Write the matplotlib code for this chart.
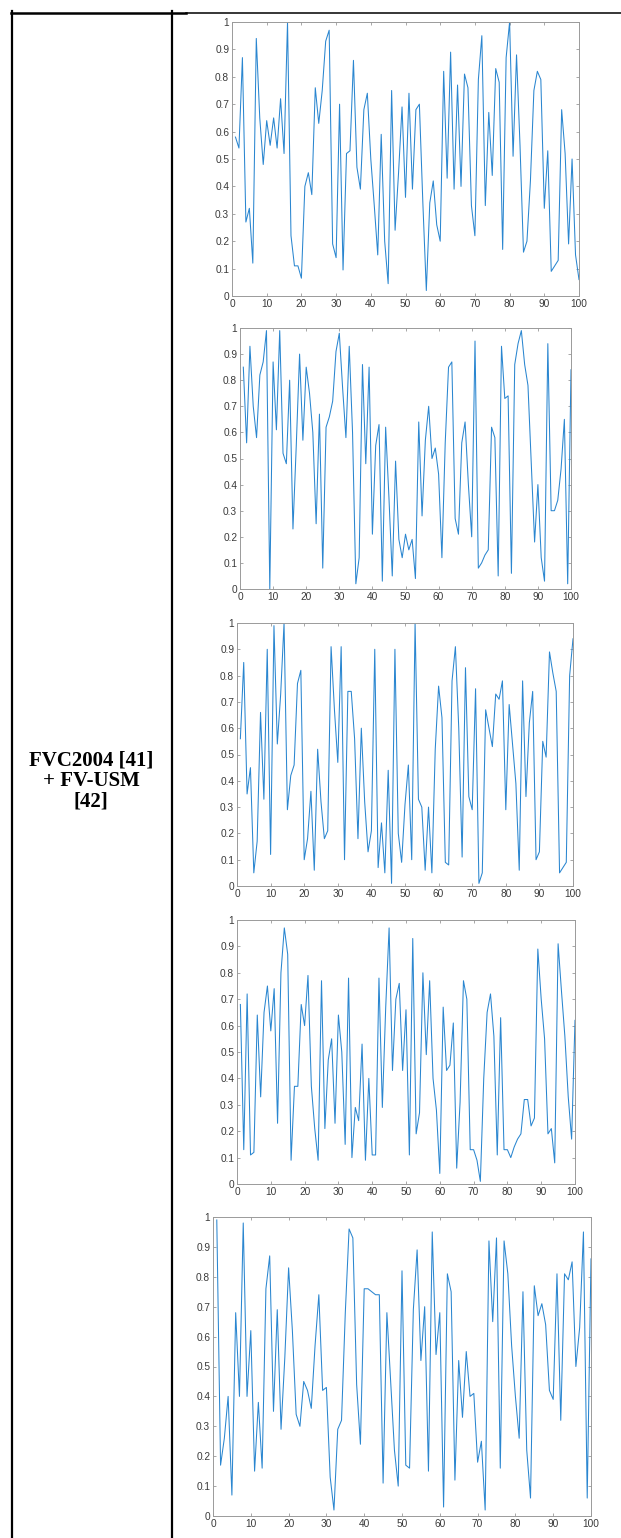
import matplotlib
matplotlib.use("Agg")
from matplotlib import pyplot as plt
from matplotlib.lines import Line2D
from matplotlib.ticker import FuncFormatter
import numpy as np

# five random-looking score curves, 100 samples each
x = np.arange(1, 101)

scores_1 = [0.58, 0.54, 0.87, 0.27, 0.32, 0.12, 0.94, 0.65, 0.48, 0.64,
            0.55, 0.65, 0.54, 0.72, 0.52, 1.00, 0.22, 0.11, 0.11, 0.065,
            0.40, 0.45, 0.37, 0.76, 0.63, 0.75, 0.93, 0.97, 0.19, 0.14,
            0.70, 0.095, 0.52, 0.53, 0.86, 0.47, 0.39, 0.68, 0.74, 0.50,
            0.33, 0.15, 0.59, 0.20, 0.045, 0.75, 0.24, 0.45, 0.69, 0.36,
            0.74, 0.39, 0.68, 0.70, 0.34, 0.02, 0.34, 0.42, 0.26, 0.20,
            0.82, 0.43, 0.89, 0.39, 0.77, 0.40, 0.81, 0.76, 0.33, 0.22,
            0.79, 0.95, 0.33, 0.67, 0.44, 0.83, 0.78, 0.17, 0.87, 1.00,
            0.51, 0.88, 0.55, 0.16, 0.20, 0.42, 0.75, 0.82, 0.79, 0.32,
            0.53, 0.09, 0.11, 0.13, 0.68, 0.52, 0.19, 0.50, 0.15, 0.06]

scores_2 = [0.85, 0.56, 0.93, 0.70, 0.58, 0.82, 0.87, 0.99, 0.00, 0.87,
            0.61, 0.99, 0.52, 0.48, 0.80, 0.23, 0.55, 0.90, 0.57, 0.85,
            0.75, 0.60, 0.25, 0.67, 0.08, 0.62, 0.66, 0.72, 0.91, 0.98,
            0.77, 0.58, 0.93, 0.60, 0.02, 0.12, 0.86, 0.48, 0.85, 0.21,
            0.55, 0.63, 0.03, 0.62, 0.35, 0.05, 0.49, 0.19, 0.12, 0.21,
            0.15, 0.19, 0.04, 0.64, 0.28, 0.57, 0.70, 0.50, 0.54, 0.44,
            0.12, 0.56, 0.85, 0.87, 0.27, 0.21, 0.56, 0.64, 0.40, 0.20,
            0.95, 0.08, 0.10, 0.13, 0.15, 0.62, 0.58, 0.05, 0.93, 0.73,
            0.74, 0.06, 0.86, 0.94, 0.99, 0.86, 0.78, 0.48, 0.18, 0.40,
            0.12, 0.03, 0.94, 0.30, 0.30, 0.34, 0.46, 0.65, 0.02, 0.84]

scores_3 = [0.56, 0.85, 0.35, 0.45, 0.05, 0.17, 0.66, 0.33, 0.90, 0.12,
            0.99, 0.54, 0.73, 1.00, 0.29, 0.42, 0.46, 0.77, 0.82, 0.10,
            0.18, 0.36, 0.06, 0.52, 0.32, 0.18, 0.21, 0.91, 0.67, 0.47,
            0.91, 0.10, 0.74, 0.74, 0.56, 0.18, 0.60, 0.32, 0.13, 0.21,
            0.90, 0.07, 0.24, 0.05, 0.44, 0.01, 0.90, 0.20, 0.09, 0.31,
            0.46, 0.10, 1.00, 0.33, 0.30, 0.06, 0.30, 0.05, 0.52, 0.76,
            0.64, 0.09, 0.08, 0.78, 0.91, 0.60, 0.11, 0.83, 0.34, 0.29,
            0.75, 0.01, 0.05, 0.67, 0.60, 0.53, 0.73, 0.71, 0.78, 0.29,
            0.69, 0.54, 0.39, 0.06, 0.78, 0.34, 0.62, 0.74, 0.10, 0.13,
            0.55, 0.49, 0.89, 0.81, 0.74, 0.05, 0.07, 0.09, 0.80, 0.94]

scores_4 = [0.68, 0.13, 0.72, 0.11, 0.12, 0.64, 0.33, 0.65, 0.75, 0.58,
            0.74, 0.23, 0.80, 0.97, 0.87, 0.09, 0.37, 0.37, 0.68, 0.60,
            0.79, 0.37, 0.21, 0.09, 0.77, 0.21, 0.47, 0.55, 0.23, 0.64,
            0.50, 0.15, 0.78, 0.10, 0.29, 0.24, 0.53, 0.09, 0.40, 0.11,
            0.11, 0.78, 0.29, 0.67, 0.97, 0.43, 0.70, 0.76, 0.43, 0.66,
            0.11, 0.93, 0.19, 0.27, 0.80, 0.49, 0.77, 0.40, 0.28, 0.04,
            0.67, 0.43, 0.45, 0.61, 0.06, 0.31, 0.77, 0.70, 0.13, 0.13,
            0.09, 0.01, 0.40, 0.65, 0.72, 0.56, 0.11, 0.63, 0.13, 0.13,
            0.10, 0.14, 0.17, 0.19, 0.32, 0.32, 0.22, 0.25, 0.89, 0.70,
            0.55, 0.19, 0.21, 0.08, 0.91, 0.73, 0.56, 0.33, 0.17, 0.62]

scores_5 = [0.99, 0.17, 0.26, 0.40, 0.07, 0.68, 0.40, 0.98, 0.40, 0.62,
            0.15, 0.38, 0.16, 0.76, 0.87, 0.35, 0.69, 0.29, 0.53, 0.83,
            0.62, 0.34, 0.30, 0.45, 0.42, 0.36, 0.57, 0.74, 0.42, 0.43,
            0.13, 0.02, 0.29, 0.32, 0.68, 0.96, 0.93, 0.44, 0.24, 0.76,
            0.76, 0.75, 0.74, 0.74, 0.11, 0.68, 0.45, 0.22, 0.10, 0.82,
            0.17, 0.16, 0.69, 0.89, 0.52, 0.70, 0.15, 0.95, 0.54, 0.68,
            0.03, 0.81, 0.75, 0.12, 0.52, 0.33, 0.55, 0.40, 0.41, 0.18,
            0.25, 0.02, 0.92, 0.65, 0.93, 0.16, 0.92, 0.81, 0.57, 0.40,
            0.26, 0.75, 0.22, 0.06, 0.77, 0.67, 0.71, 0.64, 0.42, 0.39,
            0.81, 0.32, 0.81, 0.79, 0.85, 0.50, 0.63, 0.95, 0.06, 0.86]

all_scores = [scores_1, scores_2, scores_3, scores_4, scores_5]
x_ticks = list(range(0, 101, 10))
y_ticks = [i / 10 for i in range(11)]
label = "FVC2004 [41]\n+ FV-USM\n[42]"

W, H = 621, 1538
fig = plt.figure(figsize=(W / 100, H / 100), dpi=100)

# axes boxes in pixels: left, right, top, bottom
boxes = [(232, 579, 22, 296),
         (240, 571, 328, 589),
         (237, 573, 623, 886),
         (237, 575, 920, 1184),
         (213, 591, 1217, 1516)]

for (l, r, t, b), ys in zip(boxes, all_scores):
    ax = fig.add_axes([l / W, 1 - b / H, (r - l) / W, (b - t) / H])
    ax.plot(x, ys, color='#2a86d0', lw=0.75)
    ax.set_xlim(0, 100)
    ax.set_ylim(0, 1)
    ax.set_xticks(x_ticks)
    ax.set_yticks(y_ticks)
    ax.yaxis.set_major_formatter(FuncFormatter(lambda v, p: '%g' % v))
    ax.tick_params(direction='in', length=2.5, width=0.6, color='#999999',
                   top=True, right=True, labelsize=7.3, labelcolor='#3a3a3a', pad=2)
    for lab in ax.get_xticklabels() + ax.get_yticklabels():
        lab.set_family('Liberation Sans')
    for s in ax.spines.values():
        s.set_color('#9a9a9a')
        s.set_linewidth(0.7)

# table borders
fig.add_artist(Line2D([12 / W, 12 / W], [0, 1 - 11 / H], color='black', lw=1.6))
fig.add_artist(Line2D([172 / W, 172 / W], [0, 1 - 11 / H], color='black', lw=1.6))
fig.add_artist(Line2D([11 / W, 186 / W], [1 - 12.5 / H, 1 - 12.5 / H], color='black', lw=1.8))
fig.add_artist(Line2D([186 / W, 1], [1 - 12.5 / H, 1 - 12.5 / H], color='black', lw=1.1))

fig.text(91 / W, 1 - 781 / H, label, ha='center', va='center', fontsize=15,
         fontweight='bold', family='Liberation Serif', linespacing=1.05)

fig.savefig('out.png', dpi=100)
